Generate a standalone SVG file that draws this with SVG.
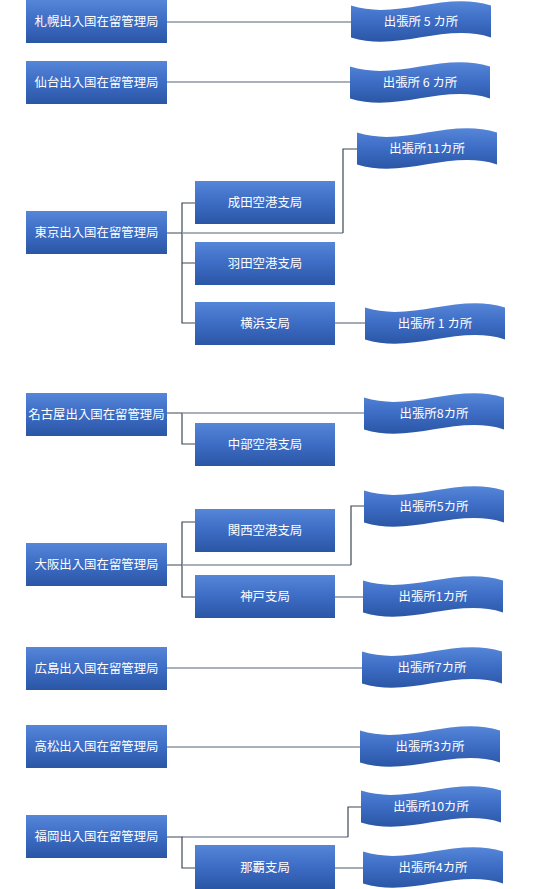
<svg xmlns="http://www.w3.org/2000/svg" width="543" height="889" viewBox="0 0 543 889">
  <style>
    .box { fill: url(#blue); }
    .wave { fill: url(#blue); }
    .t { font-family: "Noto Sans CJK JP", "Noto Sans", sans-serif; font-size: 12.4px; fill: #ffffff; text-anchor: middle; }
    .dark { fill: none; stroke: #3e4853; stroke-width: 1.2; }
    .gray { fill: none; stroke: #8a97a5; stroke-width: 1.6; }
  </style>
  <defs>
    <linearGradient id="blue" x1="0" y1="0" x2="0" y2="1">
      <stop offset="0" stop-color="#5586d8"/>
      <stop offset="0.5" stop-color="#3c6cc4"/>
      <stop offset="1" stop-color="#2b56a5"/>
    </linearGradient>
    <path id="wv" d="M0,4.6 C46.67,19.6 93.33,-10.4 140,4.6 L140,36.4 C93.33,21.4 46.67,51.4 0,36.4 Z"/>
  </defs>
  <rect width="543" height="889" fill="#ffffff"/>

  <g id="connectors">
    <path class="gray" d="M167,22 H351"/>
    <path class="gray" d="M167,82 H350"/>
    <path class="dark" d="M167,233 H182 M195,203 H182 V323 H195 M182,263 H195"/>
    <path class="gray" d="M182,233 H343"/>
    <path class="dark" d="M343,233 V149 H357"/>
    <path class="gray" d="M335,323 H365"/>
    <path class="dark" d="M167,413 H182 V444 H195"/>
    <path class="gray" d="M182,413 H364"/>
    <path class="dark" d="M167,565 H182 M195,522 H182 V597 H195"/>
    <path class="gray" d="M182,565 H351"/>
    <path class="dark" d="M351,565 V506 H364"/>
    <path class="gray" d="M335,597 H363"/>
    <path class="gray" d="M167,668 H362"/>
    <path class="gray" d="M167,747 H360"/>
    <path class="gray" d="M182,837 H348"/>
    <path class="dark" d="M348,837 V807 H361 M167,837 H182 V868 H195"/>
    <path class="gray" d="M335,868 H363"/>
  </g>

  <g id="sapporo"><rect class="box" x="26" y="0" width="141" height="43"/><text class="t" x="96.5" y="26">札幌出入国在留管理局</text></g>
  <g id="sendai"><rect class="box" x="26" y="61" width="141" height="43"/><text class="t" x="96.5" y="87">仙台出入国在留管理局</text></g>
  <g id="tokyo"><rect class="box" x="26" y="211" width="141" height="43"/><text class="t" x="96.5" y="237">東京出入国在留管理局</text></g>
  <g id="narita"><rect class="box" x="195" y="181" width="140" height="43"/><text class="t" x="265" y="207">成田空港支局</text></g>
  <g id="haneda"><rect class="box" x="195" y="242" width="140" height="43"/><text class="t" x="265" y="268">羽田空港支局</text></g>
  <g id="yokohama"><rect class="box" x="195" y="302" width="140" height="43"/><text class="t" x="265" y="328">横浜支局</text></g>
  <g id="nagoya"><rect class="box" x="26" y="393" width="141" height="43"/><text class="t" x="96.5" y="419">名古屋出入国在留管理局</text></g>
  <g id="chubu"><rect class="box" x="195" y="423" width="140" height="43"/><text class="t" x="265" y="449">中部空港支局</text></g>
  <g id="kansai"><rect class="box" x="195" y="509" width="140" height="43"/><text class="t" x="265" y="535">関西空港支局</text></g>
  <g id="osaka"><rect class="box" x="26" y="543" width="141" height="43"/><text class="t" x="96.5" y="569">大阪出入国在留管理局</text></g>
  <g id="kobe"><rect class="box" x="195" y="575" width="140" height="43"/><text class="t" x="265" y="601">神戸支局</text></g>
  <g id="hiroshima"><rect class="box" x="26" y="647" width="141" height="43"/><text class="t" x="96.5" y="673">広島出入国在留管理局</text></g>
  <g id="takamatsu"><rect class="box" x="26" y="725" width="141" height="43"/><text class="t" x="96.5" y="751">高松出入国在留管理局</text></g>
  <g id="fukuoka"><rect class="box" x="26" y="815" width="141" height="43"/><text class="t" x="96.5" y="841">福岡出入国在留管理局</text></g>
  <g id="naha"><rect class="box" x="195" y="845" width="140" height="44"/><text class="t" x="265" y="872">那覇支局</text></g>

  <g id="w-sapporo"><use href="#wv" class="wave" x="351" y="1"/><text class="t" x="421" y="26">出張所 5 カ所</text></g>
  <g id="w-sendai"><use href="#wv" class="wave" x="350" y="62"/><text class="t" x="420" y="87">出張所 6 カ所</text></g>
  <g id="w-tokyo"><use href="#wv" class="wave" x="357" y="128"/><text class="t" x="427" y="153">出張所11カ所</text></g>
  <g id="w-yokohama"><use href="#wv" class="wave" x="365" y="303"/><text class="t" x="435" y="328">出張所 1 カ所</text></g>
  <g id="w-nagoya"><use href="#wv" class="wave" x="364" y="393"/><text class="t" x="434" y="418">出張所8カ所</text></g>
  <g id="w-osaka"><use href="#wv" class="wave" x="364" y="486"/><text class="t" x="434" y="511">出張所5カ所</text></g>
  <g id="w-kobe"><use href="#wv" class="wave" x="363" y="576"/><text class="t" x="433" y="601">出張所1カ所</text></g>
  <g id="w-hiroshima"><use href="#wv" class="wave" x="362" y="647"/><text class="t" x="432" y="672">出張所7カ所</text></g>
  <g id="w-takamatsu"><use href="#wv" class="wave" x="360" y="726"/><text class="t" x="430" y="751">出張所3カ所</text></g>
  <g id="w-fukuoka"><use href="#wv" class="wave" x="361" y="786"/><text class="t" x="431" y="811">出張所10カ所</text></g>
  <g id="w-naha"><use href="#wv" class="wave" x="363" y="847"/><text class="t" x="433" y="872">出張所4カ所</text></g>
</svg>
